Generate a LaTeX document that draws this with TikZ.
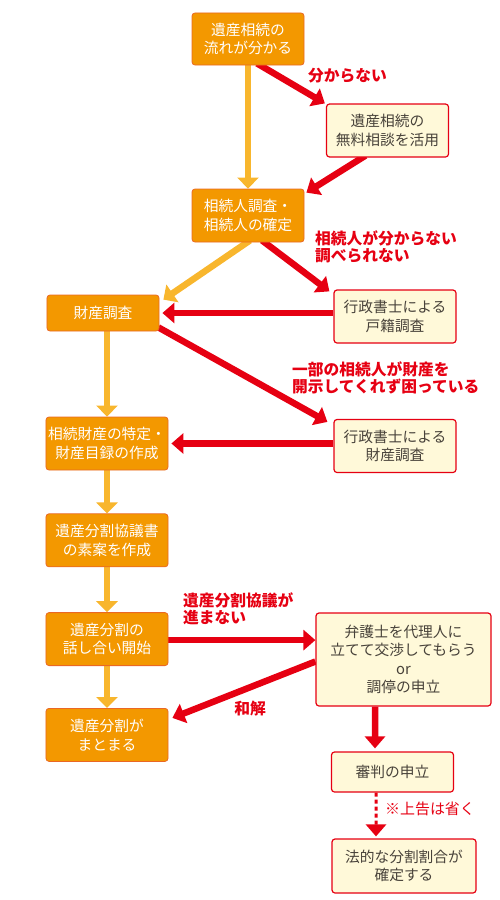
\documentclass[tikz,border=0pt]{standalone}
\usepackage{fontspec}
\setmainfont{Noto Sans CJK JP}
\usepackage{tikz}
\usetikzlibrary{positioning,arrows.meta,backgrounds}
\definecolor{floworange}{RGB}{243,152,0}
\definecolor{flowedge}{RGB}{234,104,36}
\definecolor{helpyellow}{RGB}{255,249,217}
\definecolor{alertred}{RGB}{230,0,18}
\definecolor{mainyellow}{RGB}{248,182,45}
\definecolor{helptext}{RGB}{72,66,58}
\tikzset{
    box/.style={rectangle, rounded corners=3bp, align=center, inner sep=0pt, font=\fontsize{14.8}{18.5}\selectfont},
    flow box/.style={box, fill=floworange, draw=flowedge, line width=0.8bp, text=white, minimum width=122bp, minimum height=53bp},
    help box/.style={box, fill=helpyellow, draw=alertred, line width=1.2bp, text=helptext, minimum width=122bp, minimum height=53bp},
    main arrow/.style={-{Triangle[width=21bp,length=11bp]}, line width=6.5bp, mainyellow},
    alt arrow/.style={-{Triangle[width=20bp,length=12bp]}, line width=6.5bp, alertred},
    alert note/.style={align=left, inner sep=0pt, text=alertred, font=\fontsize{15.8}{18}\selectfont\bfseries}
}
\begin{document}
\begin{tikzpicture}[x=1bp, y=1bp]
\useasboundingbox (0,0) rectangle (500,-900);
% Main flow nodes
\node[flow box, minimum width=112bp, minimum height=52bp] (known) at (248,-39) {遺産相続の\\流れが分かる};
\node[flow box, minimum width=112bp] (heirs) at (248,-215.5) {相続人調査・\\相続人の確定};
\node[flow box, minimum width=112bp, minimum height=36bp] (assets) at (103,-313) {財産調査};
\node[flow box] (inventory) at (107,-443.5) {相続財産の特定・\\財産目録の作成};
\node[flow box, below=43bp of inventory] (draft) {遺産分割協議書\\の素案を作成};
\node[flow box, below=45bp of draft] (talks) {遺産分割の\\話し合い開始};
\node[flow box, below=42bp of talks] (agreed) {遺産分割が\\まとまる};

% Help nodes
\node[help box] (consult) at (387.5,-130.5) {遺産相続の\\無料相談を活用};
\node[help box] (registry) at (395,-316.5) {行政書士による\\戸籍調査};
\node[help box] (survey) at (395,-446) {行政書士による\\財産調査};
\node[help box, minimum width=175bp, minimum height=93bp] (lawyer) at (403.5,-659.5) {弁護士を代理人に\\立てて交渉してもらう\\or\\調停の申立};
\node[help box, minimum height=40bp] (trial) at (392.5,-772) {審判の申立};
\node[help box, minimum width=144bp, minimum height=54bp] (fixed) at (404,-866) {法的な分割割合が\\確定する};

% Labels
\node[alert note, anchor=west] (unknown) at (308,-76) {分からない};
\node[alert note, anchor=north west] (noheirs) at (315,-230) {相続人が分からない\\調べられない};
\node[alert note, anchor=north west] (hidden) at (292,-361) {一部の相続人が財産を\\開示してくれず困っている};
\node[alert note, anchor=north west] (stuck) at (183,-592) {遺産分割協議が\\進まない};
\node[alert note] (settle) at (250,-709) {和解};
\node[anchor=west, inner sep=0pt, text=alertred, font=\fontsize{15}{18}\selectfont] (noappeal) at (385,-809) {※上告は省く};

\begin{scope}[on background layer]
% Main arrows
\draw[main arrow] (known) -- (heirs);
\draw[main arrow] ([xshift=2bp,yshift=2bp]heirs.south) -- ([shift={(4bp,-5bp)}]assets.north east);
\draw[main arrow] (assets.south -| inventory.north) -- (inventory.north);
\draw[main arrow] (inventory) -- (draft);
\draw[main arrow] (draft) -- (talks);
\draw[main arrow] (talks) -- (agreed);

% Side arrows
\draw[alt arrow] ([xshift=9bp,yshift=2bp]known.south) -- ([xshift=-1bp]consult.north west);
\draw[alt arrow] ([xshift=-22bp,yshift=2bp]consult.south) -- ([shift={(2bp,-4bp)}]heirs.north east);
\draw[alt arrow] ([xshift=14bp,yshift=2bp]heirs.south) -- ([shift={(-4bp,-2bp)}]registry.north west);
\draw[alt arrow] (registry.west |- assets.east) -- ([xshift=3bp]assets.east);
\draw[alt arrow] ([shift={(-1bp,4bp)}]assets.south east) -- ([shift={(-6bp,-3bp)}]survey.north west);
\draw[alt arrow] (survey.west |- inventory.east) -- ([xshift=3bp]inventory.east);
\draw[alt arrow] ([yshift=-1bp]talks.east) -- ([yshift=-1bp]talks.east -| lawyer.west);
\draw[alt arrow] ([yshift=-2bp]lawyer.west) -- ([shift={(4bp,17bp)}]agreed.east);
\draw[alt arrow] ([xshift=-28.5bp]lawyer.south) -- ([xshift=-17.5bp,yshift=3bp]trial.north);
\draw[alt arrow, line width=3bp, dash pattern=on 4bp off 3bp] ([xshift=-16.5bp]trial.south) -- ([xshift=-28bp,yshift=2bp]fixed.north);
\end{scope}
\end{tikzpicture}
\end{document}
